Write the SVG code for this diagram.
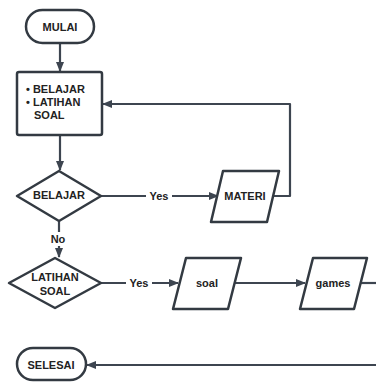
<svg xmlns="http://www.w3.org/2000/svg" width="376" height="383" viewBox="0 0 376 383">
<style>
.s{fill:#fff;stroke:#333a42;stroke-width:2.5;stroke-linejoin:round}
.c{fill:none;stroke:#3d4550;stroke-width:2.2;stroke-linejoin:round}
text{font-family:"Liberation Sans",Arial,sans-serif;font-weight:bold;font-size:11px;fill:#222}
.m{text-anchor:middle;dominant-baseline:central}
.lb{fill:#fff}
</style>
<defs>
<marker id="a" markerWidth="10" markerHeight="8" refX="9" refY="4" orient="auto" markerUnits="userSpaceOnUse">
<path d="M0,0 L10,4 L0,8 Z" fill="#3d4550"/>
</marker>
</defs>
<g id="connectors">
<path class="c" d="M60,43 V71" marker-end="url(#a)"/>
<path class="c" d="M60,135 V170" marker-end="url(#a)"/>
<path class="c" d="M101,196 H218" marker-end="url(#a)"/>
<path class="c" d="M273,196 H290 V104 H103" marker-end="url(#a)"/>
<path class="c" d="M59,221 V257" marker-end="url(#a)"/>
<path class="c" d="M101,283 H178" marker-end="url(#a)"/>
<path class="c" d="M235,283 H305" marker-end="url(#a)"/>
<path class="c" d="M360,283 H377"/>
<path class="c" d="M377,365 H87" marker-end="url(#a)"/>
<rect x="146" y="189" width="26" height="13" class="lb"/>
<text x="159" y="195.5" class="m">Yes</text>
<rect x="48" y="232" width="20" height="14" class="lb"/>
<text x="58" y="239" class="m">No</text>
<rect x="126" y="276" width="26" height="13" class="lb"/>
<text x="139" y="283" class="m">Yes</text>
</g>
<g id="mulai">
<rect class="s" x="26" y="10" width="68" height="33" rx="16.5"/>
<text x="60" y="27" class="m">MULAI</text>
</g>
<g id="box">
<rect class="s" x="17" y="72" width="85" height="63" rx="2"/>
<text x="26" y="93">• BELAJAR</text>
<text x="26" y="106">• LATIHAN</text>
<text x="34" y="119">SOAL</text>
</g>
<g id="dec1">
<path class="s" d="M59,171 L101,196 L59,221 L17,196 Z"/>
<text x="59" y="195" class="m">BELAJAR</text>
</g>
<g id="materi">
<path class="s" d="M223,171 H279 L267,222 H211 Z"/>
<text x="245" y="196" class="m">MATERI</text>
</g>
<g id="dec2">
<path class="s" d="M55,258 L101,283 L55,308 L9,283 Z"/>
<text x="55" y="277" class="m">LATIHAN</text>
<text x="55" y="291" class="m">SOAL</text>
</g>
<g id="soal">
<path class="s" d="M186,258 H241 L228,309 H173 Z"/>
<text x="207" y="283" class="m">soal</text>
</g>
<g id="games">
<path class="s" d="M313,258 H367 L354,309 H300 Z"/>
<text x="333" y="283" class="m">games</text>
</g>
<g id="selesai">
<rect class="s" x="17" y="348" width="69" height="32" rx="16"/>
<text x="51" y="364.5" class="m">SELESAI</text>
</g>
</svg>
